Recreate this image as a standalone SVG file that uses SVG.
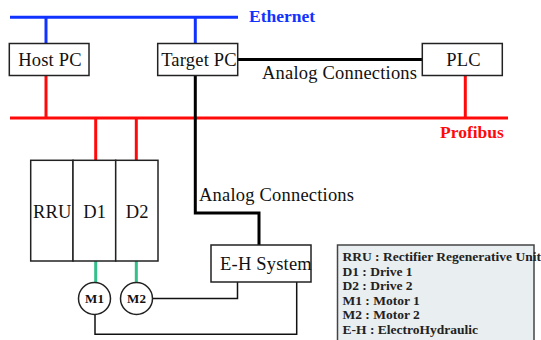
<svg xmlns="http://www.w3.org/2000/svg" width="541" height="340" viewBox="0 0 541 340">
<style>
.box{fill:#fff;stroke:#222;stroke-width:1.5}
.lbl{font-family:"Liberation Serif","Times New Roman",serif;font-size:18.5px;letter-spacing:0.2px;fill:#111}
.bus{font-family:"Liberation Serif","Times New Roman",serif;font-size:17.5px;font-weight:bold}
.thin{fill:none;stroke:#111;stroke-width:1.5}
.mot{font-family:"Liberation Serif","Times New Roman",serif;font-size:13px;font-weight:bold;fill:#111}
.leg{font-family:"Liberation Serif","Times New Roman",serif;font-size:13.5px;font-weight:bold;fill:#222}
</style>
<g id="connectors">
<line x1="10" y1="17.3" x2="238" y2="17.3" stroke="#1133ff" stroke-width="3"/>
<line x1="46" y1="17" x2="46" y2="43.5" stroke="#1133ff" stroke-width="3"/>
<line x1="195.3" y1="17" x2="195.3" y2="43.5" stroke="#1133ff" stroke-width="3"/>
<line x1="10" y1="118" x2="508" y2="118" stroke="#ff0a0a" stroke-width="3"/>
<line x1="46" y1="75.7" x2="46" y2="118" stroke="#ff0a0a" stroke-width="3"/>
<line x1="465.3" y1="75.7" x2="465.3" y2="118" stroke="#ff0a0a" stroke-width="3"/>
<line x1="95.7" y1="118" x2="95.7" y2="160.3" stroke="#ff0a0a" stroke-width="3"/>
<line x1="136.3" y1="118" x2="136.3" y2="160.3" stroke="#ff0a0a" stroke-width="3"/>
<line x1="237.7" y1="59.5" x2="422.3" y2="59.5" stroke="#000" stroke-width="3"/>
<polyline points="195.3,75.7 195.3,213 259,213 259,245" fill="none" stroke="#000" stroke-width="3"/>
<line x1="95.7" y1="261" x2="95.7" y2="283" stroke="#33c08a" stroke-width="3"/>
<line x1="136.3" y1="261" x2="136.3" y2="283" stroke="#33c08a" stroke-width="3"/>
<polyline class="thin" points="152.3,298.5 237.5,298.5 237.5,282"/>
<polyline class="thin" points="95,314.5 95,334.3 296.7,334.3 296.7,282"/>
</g>
<text class="bus" x="249" y="22" fill="#1133ff">Ethernet</text>
<text class="bus" x="440" y="137.7" fill="#ff0a0a">Profibus</text>
<text class="lbl" x="262" y="79">Analog Connections</text>
<text class="lbl" x="199" y="201">Analog Connections</text>
<g id="host-pc">
<rect class="box" x="9.3" y="43.5" width="79.7" height="32"/>
<text class="lbl" x="50" y="66" text-anchor="middle">Host PC</text>
</g>
<g id="target-pc">
<rect class="box" x="157.7" y="43.5" width="80" height="32"/>
<text class="lbl" x="199" y="66" text-anchor="middle">Target PC</text>
</g>
<g id="plc">
<rect class="box" x="422.3" y="43.5" width="80" height="32"/>
<text class="lbl" x="463.5" y="66" text-anchor="middle">PLC</text>
</g>
<g id="rru">
<rect class="box" x="30.7" y="160.3" width="42.3" height="100.7"/>
<text class="lbl" x="52.3" y="217.5" text-anchor="middle">RRU</text>
</g>
<g id="d1">
<rect class="box" x="73" y="160.3" width="42.7" height="100.7"/>
<text class="lbl" x="94.8" y="217.5" text-anchor="middle">D1</text>
</g>
<g id="d2">
<rect class="box" x="115.7" y="160.3" width="42.3" height="100.7"/>
<text class="lbl" x="137.3" y="217.5" text-anchor="middle">D2</text>
</g>
<g id="eh-system">
<rect class="box" x="211" y="245" width="100" height="37"/>
<text class="lbl" x="266" y="270" text-anchor="middle">E-H System</text>
</g>
<g id="m1">
<circle class="box" cx="94.5" cy="298.5" r="16"/>
<text class="mot" x="94.5" y="303" text-anchor="middle">M1</text>
</g>
<g id="m2">
<circle class="box" cx="136.5" cy="298.5" r="16"/>
<text class="mot" x="136.5" y="303" text-anchor="middle">M2</text>
</g>
<g id="legend">
<rect x="337.5" y="245" width="196.5" height="100" fill="#e9eef0" stroke="#444" stroke-width="1.5"/>
<text class="leg" x="342.5" y="261">RRU : Rectifier Regenerative Unit</text>
<text class="leg" x="342.5" y="275.5">D1 : Drive 1</text>
<text class="leg" x="342.5" y="290">D2 : Drive 2</text>
<text class="leg" x="342.5" y="304.5">M1 : Motor 1</text>
<text class="leg" x="342.5" y="319">M2 : Motor 2</text>
<text class="leg" x="342.5" y="333.5">E-H : ElectroHydraulic</text>
</g>
</svg>
